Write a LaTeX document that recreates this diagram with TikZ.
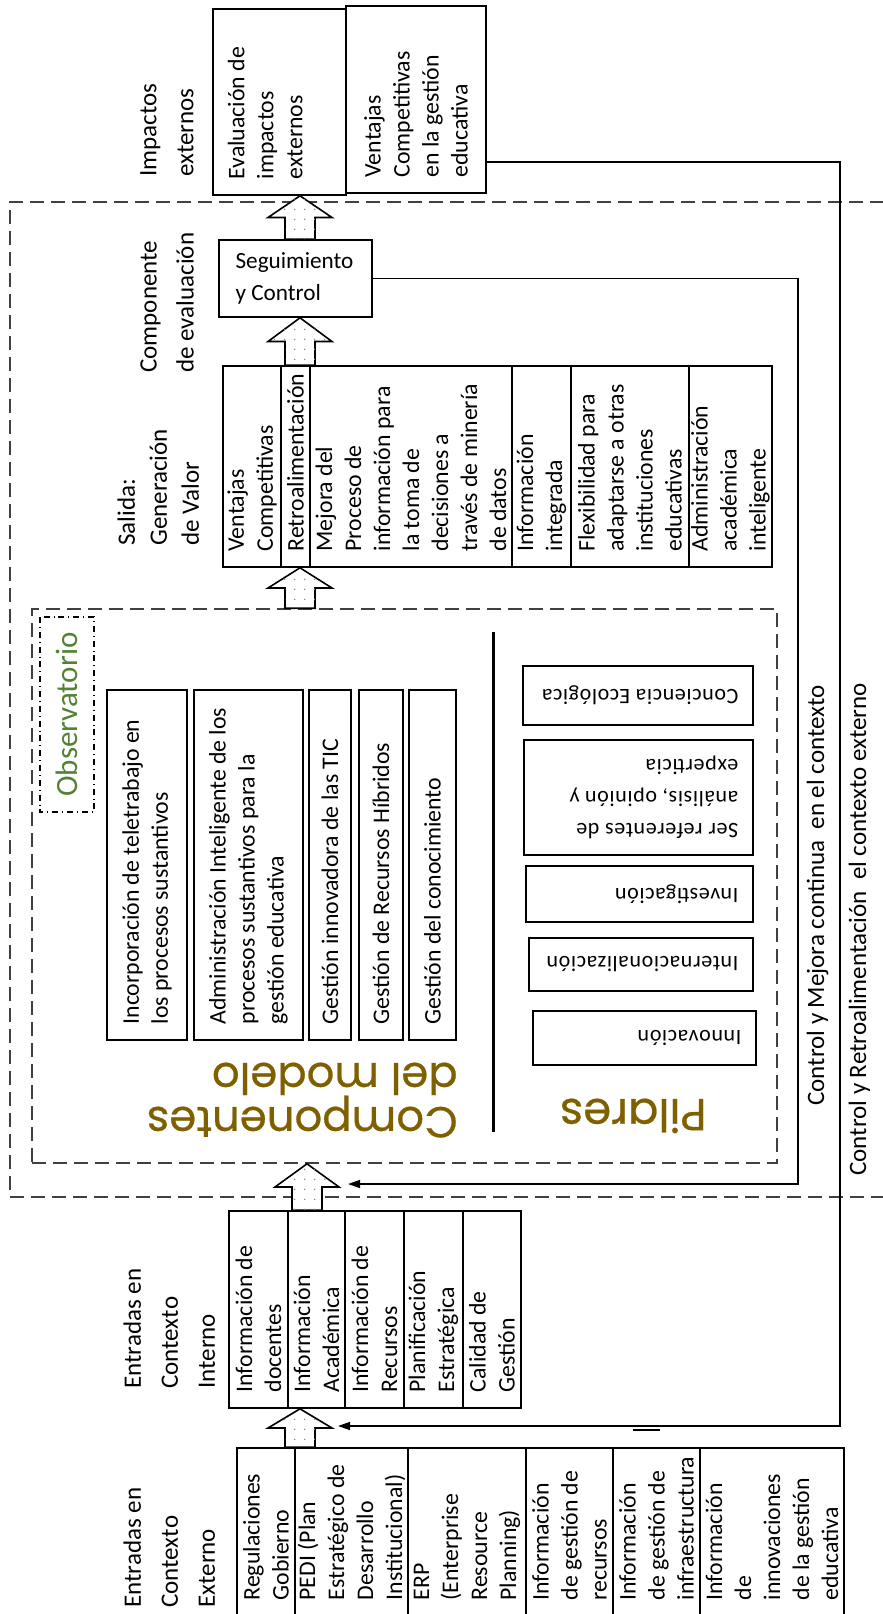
\documentclass[tikz,border=0pt]{standalone}
\usepackage{fontspec}
\setmainfont{Carlito}
\newfontfamily\titlefont[FakeBold=0.5]{Poppins}
\newfontfamily\pilarfont[LetterSpace=3]{Carlito}
\usepackage{tikz}
\usetikzlibrary{calc,arrows.meta,patterns.meta}

\definecolor{gold}{RGB}{127,96,0}
\definecolor{obsgreen}{RGB}{84,130,53}
\definecolor{dashgray}{RGB}{64,64,64}

\newcommand{\cellfont}{\fontsize{11.9}{14.5}\selectfont}
\newcommand{\lblfont}{\fontsize{12.5}{18.5}\selectfont}

\tikzdeclarepattern{
  name=sparsedots,
  type=uncolored,
  bottom left={(0pt,0pt)},
  top right={(5pt,5pt)},
  tile size={(5pt,5pt)},
  code={\fill (2.5pt,2.5pt) circle [radius=0.45pt];}
}

% cell with text read from bottom to top: name, x-left, x-right, y-top, y-bottom, text
\newcommand{\vcell}[6]{%
  \pgfmathsetmacro{\cellw}{(#5-#4)/2}%
  \pgfmathsetmacro{\cellh}{(#3-#2)/2}%
  \node[vcell, minimum width=\cellw pt, minimum height=\cellh pt] (#1) at ({(#2+#3)/2},{(#4+#5)/2}) {};
  \node[vtext, anchor=west] at ([yshift=8pt]#1.west) {#6};}

% cell with text upside down
\newcommand{\hcell}[6]{%
  \pgfmathsetmacro{\cellw}{(#3-#2)/2}%
  \pgfmathsetmacro{\cellh}{(#5-#4)/2}%
  \node[hcell, minimum width=\cellw pt, minimum height=\cellh pt] (#1) at ({(#2+#3)/2},{(#4+#5)/2}) {};
  \node[htext, anchor=west] at ([xshift=-7.5pt]#1.west) {#6};}

% hollow block arrow from base to tip
\newcommand{\fatup}[2]{%
  \path[fatarrow] let \p1=(#1), \p2=(#2), \p3=($(#1)!.5!(#2)$) in
    (\x1-7.5pt,\y1) -- (\x1-7.5pt,\y3) -- (\x1-16pt,\y3) -- (\x1,\y2)
    -- (\x1+16pt,\y3) -- (\x1+7.5pt,\y3) -- (\x1+7.5pt,\y1) -- cycle;}

\begin{document}
\begin{tikzpicture}[x=0.5pt,y=-0.5pt,
  vcell/.style={draw, line width=0.8pt, rotate=90, inner sep=0pt},
  hcell/.style={draw, line width=0.8pt, rotate=180, inner sep=0pt},
  vtext/.style={rotate=90, align=left, inner sep=0pt, font=\cellfont},
  htext/.style={rotate=180, align=left, inner sep=0pt, font={\pilarfont\fontsize{11}{16}\selectfont}},
  lbl/.style={rotate=90, align=left, inner sep=0pt, font=\lblfont},
  title/.style={rotate=180, inner sep=0pt, text=gold, font={\titlefont\fontsize{22.5}{22.5}\selectfont}},
  dashbox/.style={draw=dashgray, line width=0.8pt, dash pattern=on 7pt off 3.5pt, inner sep=0pt},
  fatarrow/.style={draw, line width=0.8pt, fill=white, postaction={pattern=sparsedots, pattern color=black!45}},
  fb/.style={draw, line width=0.7pt, -{Triangle[length=6pt,width=4pt]}}]
\useasboundingbox (0,0) rectangle (883,1614);
\clip (0,0) rectangle (883,1614);

\node[dashbox, minimum width=447.5pt, minimum height=497.5pt] (outer) at (457.5,699.5) {};
\node[dashbox, minimum width=372.5pt, minimum height=277pt] (comp) at (404.5,886) {};

\vcell{imp1}{213}{346}{9}{195}{Evaluación de\\impactos\\externos\\\mbox{}}
\vcell{imp2}{346}{486}{6}{193}{Ventajas\\Competitivas\\en la gestión\\educativa}

\node[draw, line width=0.8pt, minimum width=76.5pt, minimum height=38.5pt, inner sep=0pt] (seg) at (295.5,278.5) {};
\node[anchor=west, align=left, inner sep=0pt, font=\fontsize{11.6}{16}\selectfont] at ([xshift=8.5pt]seg.west) {Seguimiento\\y Control};

\vcell{sal1}{223}{281}{366}{567}{Ventajas\\Competitivas}
\vcell{sal2}{281}{310}{366}{567}{Retroalimentación}
\vcell{sal3}{310}{512}{366}{567}{Mejora del\\Proceso de\\información para\\la toma de\\decisiones a\\través de minería\\de datos}
\vcell{sal4}{512}{571}{366}{567}{Información\\integrada}
\vcell{sal5}{571}{689}{366}{567}{Flexibilidad para\\adaptarse a otras\\instituciones\\educativas}
\vcell{sal6}{689}{772}{366}{567}{Administración\\académica\\inteligente}

\node[draw, dash dot, line width=0.6pt, rotate=90, minimum width=97.5pt, minimum height=27pt, inner sep=0pt, text=obsgreen, font=\fontsize{15.5}{18}\selectfont] (obs) at (67,714.5) {Observatorio};

\vcell{comp1}{107}{187}{690}{1040}{Incorporación de teletrabajo en\\los procesos sustantivos}
\vcell{comp2}{194}{303}{690}{1040}{Administración Inteligente de los\\procesos sustantivos para la\\gestión educativa}
\vcell{comp3}{309}{351}{690}{1040}{Gestión innovadora de las TIC}
\vcell{comp4}{359}{403}{690}{1040}{Gestión de Recursos Híbridos}
\vcell{comp5}{409}{456}{690}{1040}{Gestión del conocimiento}

\node[title, anchor=base west, font={\titlefont\fontsize{21.7}{21.7}\selectfont}] (tcomp) at (458,1107) {Componentes};
\node[title, anchor=base west, font={\titlefont\fontsize{21.7}{21.7}\selectfont}] (tmod) at (458,1063) {del modelo};
\draw[line width=1.5pt] (493,632) -- (493,1132);

\hcell{pil1}{523}{753}{666}{725}{Conciencia Ecológica}
\hcell{pil2}{524}{753}{740}{855}{Ser referentes de\\análisis, opinión y\\experticia}
\hcell{pil3}{526}{753}{866}{922}{Investigación}
\hcell{pil4}{529}{753}{938}{991}{Internacionalización}
\hcell{pil5}{533}{756}{1011}{1065}{Innovación}
\node[title, anchor=base west] (tpil) at (707,1099) {Pilares};

\vcell{int1}{229}{288}{1211}{1408}{Información de\\docentes}
\vcell{int2}{288}{345}{1211}{1408}{Información\\Académica}
\vcell{int3}{345}{404}{1211}{1408}{Información de\\Recursos}
\vcell{int4}{404}{463}{1211}{1408}{Planificación\\Estratégica}
\vcell{int5}{463}{521}{1211}{1408}{Calidad de\\Gestión}

\vcell{ext1}{237}{295}{1448}{1616}{Regulaciones\\Gobierno}
\vcell{ext2}{295}{408}{1448}{1616}{PEDI (Plan\\Estratégico de\\Desarrollo\\Institucional)}
\vcell{ext3}{408}{526}{1448}{1616}{ERP\\(Enterprise\\Resource\\Planning)}
\vcell{ext4}{526}{613}{1448}{1616}{Información\\de gestión de\\recursos}
\vcell{ext5}{613}{700}{1448}{1616}{Información\\de gestión de\\infraestructura}
\vcell{ext6}{700}{844}{1448}{1616}{Información\\de\\innovaciones\\de la gestión\\educativa}

\fatup{300,0 |- seg.north}{300,0 |- imp1.west}
\fatup{300,0 |- sal2.east}{300,0 |- seg.south}
\fatup{300,0 |- comp.north}{300,0 |- sal2.west}
\fatup{307,0 |- int2.east}{307,0 |- comp.south}
\fatup{300,0 |- ext2.east}{300,0 |- int2.west}

\coordinate (fb1) at (348,1184);
\coordinate (fb1c) at (798,1184);
\draw[fb] (seg.east) -| (fb1c) -- (fb1);
\coordinate (fb2) at (338,1426);
\coordinate (fb2c) at (840,1426);
\draw[fb] ([yshift=16pt]imp2.south west) -| (fb2c) -- (fb2);
\draw[line width=1.2pt] (633,1430) -- (660,1430);

\node[lbl, anchor=base west] (ctl1) at (824,1106) {Control y Mejora continua\ \ en el contexto};
\node[lbl, anchor=base west] (ctl2) at (866,1176) {Control y Retroalimentación\ \ el contexto externo};

\node[lbl, anchor=north west] (limp) at (140,177) {Impactos\\externos};
\node[lbl, anchor=north west] (lcomp) at (140,373) {Componente\\de evaluación};
\node[lbl, anchor=north west, font=\fontsize{12.5}{16}\selectfont] (lsal) at (117,546) {Salida:\\Generación\\de Valor};
\node[lbl, anchor=north west] (lint) at (123,1389) {Entradas en\\Contexto\\Interno};
\node[lbl, anchor=north west] (lext) at (123,1608) {Entradas en\\Contexto\\Externo};
\end{tikzpicture}
\end{document}
